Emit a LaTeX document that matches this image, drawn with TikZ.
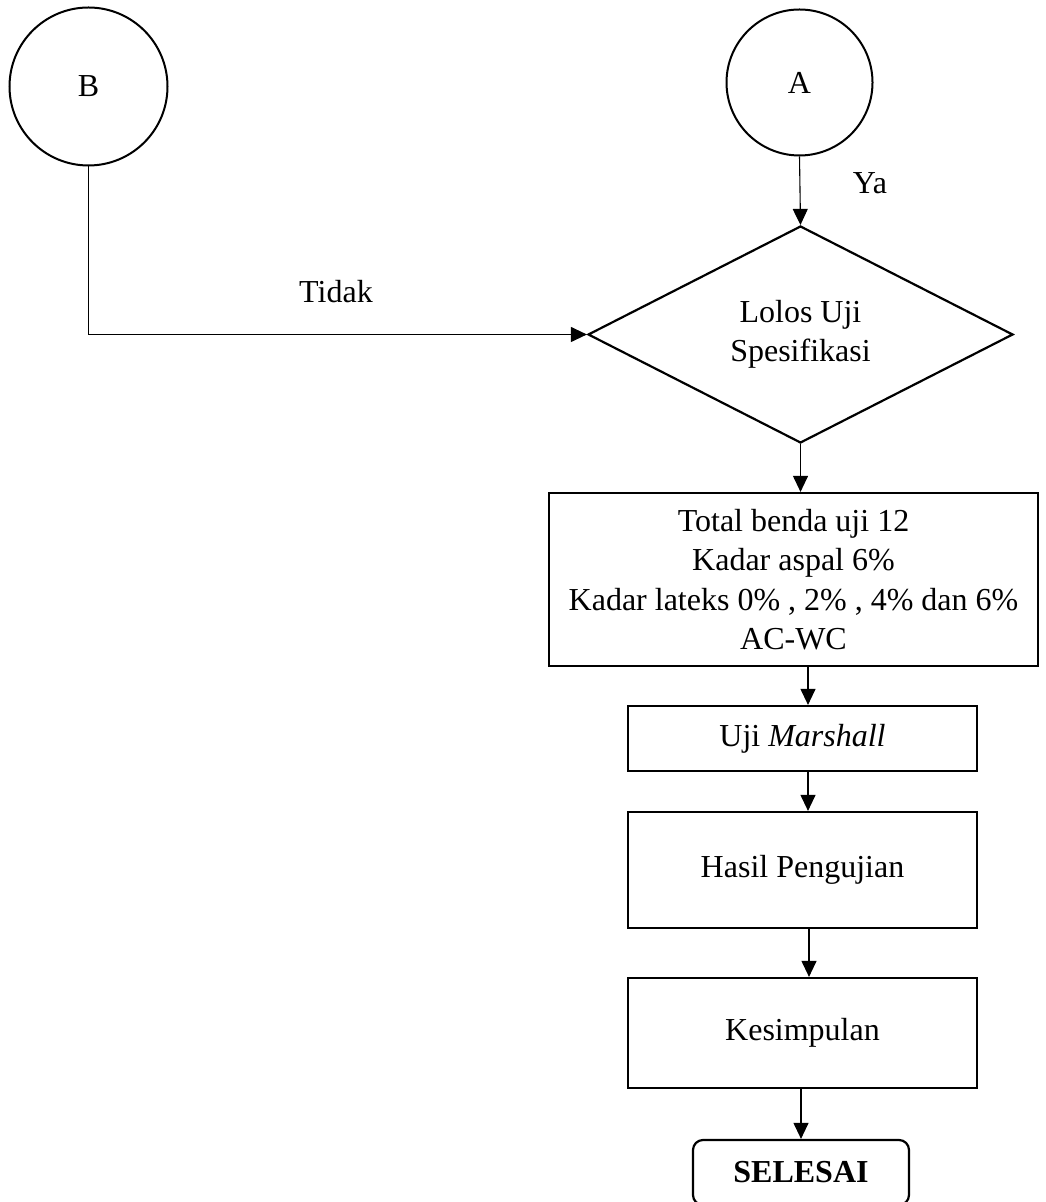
\documentclass[tikz,border=0pt]{standalone}
\usepackage{fontspec}
\setmainfont{Liberation Serif}
\usetikzlibrary{shapes.geometric,arrows.meta}
\newcommand{\teksfont}{\fontsize{16}{19.7}\selectfont}
\begin{document}
\begin{tikzpicture}[x=0.5pt,y=-0.5pt,
    every node/.style={font=\teksfont, inner sep=0pt},
    penghubung/.style={draw, circle, line width=1pt},
    proses/.style={draw, rectangle, line width=1.1pt, align=center},
    keputusan/.style={draw, diamond, aspect=2, line width=1.1pt, align=center},
    panah/.style={-{Triangle[length=8pt,width=7.5pt]}, line width=0.55pt}]
  \useasboundingbox (0,0) rectangle (1045,1202);
  % Off-page connectors
  \node[penghubung, minimum size=79pt] (B) at (88.5,86.5) {B};
  \node[penghubung, minimum size=73pt] (A) at (799.5,82.5) {A};
  % Decision
  \node[keputusan, minimum width=212.5pt, minimum height=108.5pt]
    (lolos) at (800.5,334.5) {Lolos Uji\\Spesifikasi};
  % Process boxes
  \node[proses, minimum width=244.5pt, minimum height=86.5pt]
    (benda) at (793.5,579.5)
    {Total benda uji 12\\Kadar aspal 6\%\\Kadar lateks 0\% , 2\% , 4\% dan 6\%\\AC-WC};
  \node[proses, minimum width=174.5pt, minimum height=32.5pt]
    (marshall) at (802.5,738.5) {Uji \textit{Marshall}};
  \node[proses, minimum width=174.5pt, minimum height=58pt]
    (hasil) at (802.5,870) {Hasil Pengujian};
  \node[proses, minimum width=174.5pt, minimum height=55pt]
    (simpul) at (802.5,1033) {Kesimpulan};
  % Terminator
  \node[proses, rounded corners=5pt, minimum width=108pt, minimum height=32.5pt,
        font=\teksfont\bfseries]
    (selesai) at (801,1172.5) {SELESAI};
  % Branch labels
  \node (ya) at (870,183) {Ya};
  \node (tidak) at (336,292) {Tidak};
  % Flow
  \draw[panah] (A.south) -- (lolos.north);
  \draw[panah] (B.south) |- (lolos.west);
  \draw[panah] (lolos.south) -- (lolos.south |- benda.north);
  \draw[panah] ([xshift=7.25pt]benda.south) -- ([xshift=7.25pt]benda.south |- marshall.north);
  \draw[panah] ([xshift=2.75pt]marshall.south) -- ([xshift=2.75pt]marshall.south |- hasil.north);
  \draw[panah] ([xshift=3.25pt]hasil.south) -- ([xshift=3.25pt]hasil.south |- simpul.north);
  \draw[panah] ([xshift=-0.75pt]simpul.south) -- ([xshift=-0.75pt]simpul.south |- selesai.north);
\end{tikzpicture}
\end{document}
